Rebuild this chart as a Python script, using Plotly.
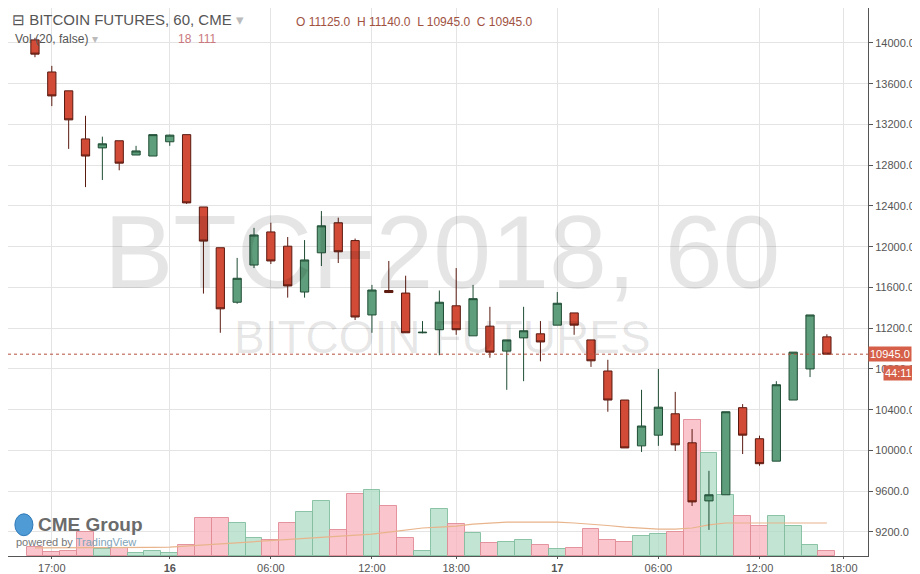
"""Recreation of a TradingView screenshot of CME Bitcoin futures, 60-minute candles."""

import plotly.graph_objects as go

# hourly bars, one entry per candle (index 0 = 15:00 on the 15th)
opens = [14030, 13715, 13530, 13058, 12970, 13040, 12900, 12890, 13030, 13100,
         12390, 11990, 11455, 11820, 12145, 12005, 11555, 11940, 12235, 12060,
         11330, 11570, 11545, 11155, 11185, 11420, 11125, 11220, 10975, 11105,
         11145, 11230, 11350, 11085, 10780, 10495, 10045, 10150, 10360, 10075,
         9505, 9565, 10420, 10115, 9895, 10495, 10800, 11115]
highs = [14050, 13775, 13530, 13285, 13080, 13040, 12990, 13100, 13100, 13100,
         12390, 11990, 11890, 12185, 12235, 12095, 12065, 12350, 12285, 12080,
         11625, 11860, 11715, 11270, 11570, 11790, 11625, 11410, 11085, 11410,
         11270, 11555, 11350, 11085, 10890, 10495, 10595, 10800, 10575, 10210,
         9800, 10380, 10455, 10145, 10680, 10965, 11330, 11140]
lows = [13860, 13380, 12960, 12585, 12655, 12750, 12900, 12890, 12990, 12420,
        11540, 11155, 11440, 11790, 11830, 11500, 11500, 11810, 11840, 11280,
        11155, 11545, 11155, 11150, 10935, 11135, 11125, 10910, 10595, 10680,
        10875, 11230, 11135, 10820, 10380, 10025, 9985, 10045, 9995, 9455,
        9220, 9565, 9965, 9850, 9895, 10495, 10720, 10945]
closes = [13890, 13480, 13245, 12890, 13010, 12820, 12940, 13100, 13095, 12430,
          12055, 11390, 11690, 12115, 11860, 11615, 11870, 12205, 11950, 11310,
          11575, 11550, 11155, 11160, 11455, 11185, 11490, 10965, 11085, 11175,
          11065, 11445, 11230, 10880, 10495, 10025, 10240, 10425, 10055, 9495,
          9565, 10380, 10150, 9870, 10645, 10965, 11330, 10945]
volumes = [32, 14, 18, 86, 25, 29, 11, 18, 11, 40,
           137, 137, 119, 65, 58, 119, 158, 198, 94, 223,
           238, 180, 65, 18, 169, 115, 83, 47, 50, 58,
           40, 25, 29, 97, 58, 50, 72, 79, 86, 490,
           371, 220, 144, 108, 144, 108, 40, 18]
vol_ma = [29, 29, 29, 29, 30, 30, 31, 31, 32, 36,
          40, 43, 47, 52, 56, 61, 65, 68, 72, 76,
          79, 86, 94, 101, 104, 108, 115, 119, 122, 122,
          122, 122, 119, 115, 110, 104, 101, 97, 97, 101,
          112, 119, 119, 119, 119, 119, 119, 119]

tick_pos = [1, 8, 14, 20, 25, 31, 37, 43, 48]
tick_text = ["17:00", "<b>16</b>", "06:00", "12:00", "18:00", "<b>17</b>",
             "06:00", "12:00", "18:00"]

last_price = 10945.0
countdown = "44:11"

idx = list(range(len(opens)))
up = [c >= o for o, c in zip(opens, closes)]
bar_fill = ["rgba(172,219,196,0.75)" if u else "rgba(248,177,187,0.75)" for u in up]
bar_edge = ["rgba(130,190,160,0.9)" if u else "rgba(225,140,150,0.9)" for u in up]

fig = go.Figure()

# volume lives on the base axis so the price overlay draws on top of it
fig.add_trace(go.Bar(
    x=idx, y=volumes, width=1, yaxis="y",
    marker=dict(color=bar_fill, line=dict(color=bar_edge, width=1)),
    hoverinfo="skip",
))
fig.add_trace(go.Scatter(
    x=idx, y=vol_ma, yaxis="y", mode="lines",
    line=dict(color="#e8b48c", width=1.2), hoverinfo="skip",
))
fig.add_trace(go.Candlestick(
    x=idx, open=opens, high=highs, low=lows, close=closes, yaxis="y2",
    increasing=dict(fillcolor="#5f9e7c", line=dict(color="#1f4d34", width=1)),
    decreasing=dict(fillcolor="#d24b37", line=dict(color="#5a1a10", width=1)),
    whiskerwidth=0,
))

fig.add_shape(type="line", xref="paper", yref="y2", x0=0, x1=1,
              y0=last_price, y1=last_price,
              line=dict(color="#b4503c", width=1, dash="dot"))

wm = "rgba(0,0,0,0.10)"
fig.add_annotation(text="BTCF2018, 60", xref="paper", yref="paper", x=0.505, y=0.555,
                   showarrow=False, font=dict(size=104, color=wm, family="Arial"))
fig.add_annotation(text="BITCOIN FUTURES", xref="paper", yref="paper", x=0.505, y=0.4,
                   showarrow=False, font=dict(size=46, color=wm, family="Arial"))

fig.add_annotation(text="⊟ BITCOIN FUTURES, 60, CME <span style='color:#bbb'>▾</span>",
                   xref="paper", yref="paper", x=0.002, y=0.998, xanchor="left",
                   yanchor="top", showarrow=False,
                   font=dict(size=15, color="#555", family="Arial"))
fig.add_annotation(text=f"O 11125.0  H 11140.0  L 10945.0  C {last_price:.1f}",
                   xref="paper", yref="paper", x=0.333, y=0.99, xanchor="left",
                   yanchor="top", showarrow=False,
                   font=dict(size=12, color="#a0523f", family="Arial"))
fig.add_annotation(text="Vol (20, false) <span style='color:#bbb'>▾</span>",
                   xref="paper", yref="paper", x=0.006, y=0.96, xanchor="left",
                   yanchor="top", showarrow=False,
                   font=dict(size=12, color="#555", family="Arial"))
fig.add_annotation(text="18  111", xref="paper", yref="paper", x=0.195, y=0.96,
                   xanchor="left", yanchor="top", showarrow=False,
                   font=dict(size=12, color="#c9787d", family="Arial"))

fig.add_annotation(text="<b>CME Group</b>", xref="paper", yref="paper", x=0.032, y=0.057,
                   xanchor="left", yanchor="middle", showarrow=False,
                   font=dict(size=19, color="#6b6b6b", family="Arial"))
fig.add_annotation(text="powered by <span style='color:#7fa3b8'>TradingView</span>",
                   xref="paper", yref="paper", x=0.007, y=0.025, xanchor="left",
                   yanchor="middle", showarrow=False,
                   font=dict(size=11, color="#777", family="Arial"))
fig.add_shape(type="circle", xref="paper", yref="paper", x0=0.008, x1=0.029,
              y0=0.037, y1=0.077, fillcolor="#4f9bd6", line=dict(color="#2f7ab8", width=1))

fig.add_annotation(text=f"{last_price:.1f}", xref="paper", yref="y2", x=1.0, y=last_price,
                   xanchor="left", showarrow=False, bgcolor="#d55f48",
                   font=dict(size=11, color="white", family="Arial"), borderpad=1)
fig.add_annotation(text=countdown, xref="paper", yref="y2", x=1.017, y=last_price - 180,
                   xanchor="left", showarrow=False, bgcolor="#d55f48",
                   font=dict(size=11, color="white", family="Arial"), borderpad=1)

fig.update_layout(
    width=920, height=574,
    margin=dict(l=0, r=60, t=0, b=26),
    paper_bgcolor="white", plot_bgcolor="white",
    showlegend=False,
    font=dict(family="Arial", size=11, color="#555"),
    xaxis=dict(range=[-1.6, 49.44], tickvals=tick_pos, ticktext=tick_text,
               showgrid=True, gridcolor="#e4e4e4", zeroline=False,
               rangeslider=dict(visible=False), showline=True,
               linecolor="#555", ticks="outside", ticklen=2, tickcolor="#555"),
    yaxis=dict(range=[0, 1975], visible=False, showgrid=False),
    yaxis2=dict(range=[8964, 14343], overlaying="y", side="right", dtick=400,
                tick0=9200, tickformat=".1f", showgrid=True, gridcolor="#e4e4e4",
                zeroline=False, showline=True, linecolor="#555",
                ticks="outside", ticklen=4, tickcolor="#555"),
    bargap=0,
)

fig.write_html("out.html")
